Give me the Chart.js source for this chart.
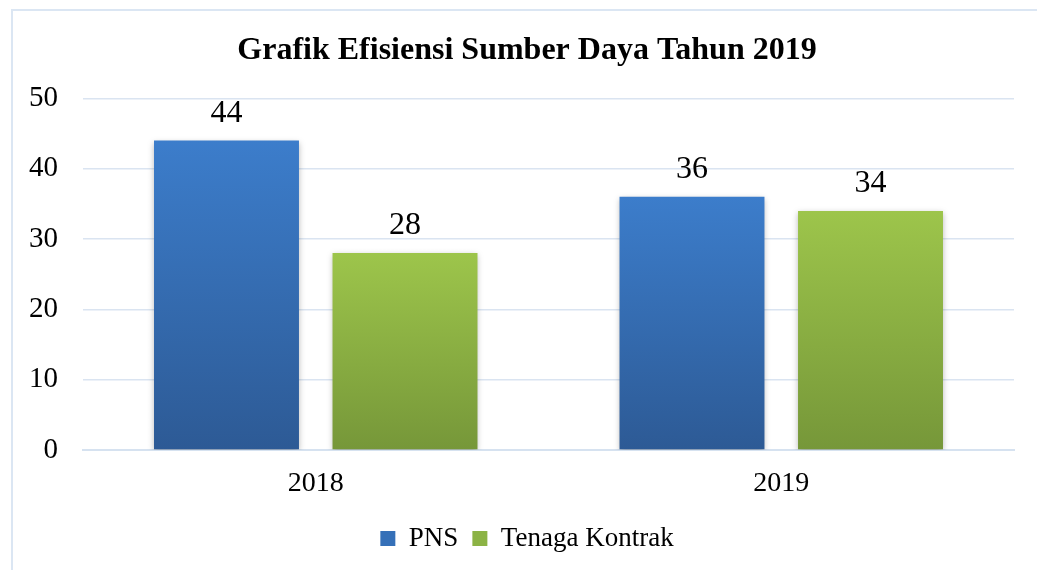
<!DOCTYPE html>
<html>
<head>
<meta charset="utf-8">
<script src="https://cdn.jsdelivr.net/npm/chart.js@4.4.1/dist/chart.umd.min.js"></script>
<style>
  html, body { margin: 0; padding: 0; background: #ffffff; overflow: hidden; }
  #wrap { position: relative; width: 1037px; height: 570px; }
  canvas { display: block; }
</style>
</head>
<body>
<div id="wrap"><canvas id="c" width="1037" height="570"></canvas></div>
<script>
const categories = ['2018', '2019'];
const pnsValues = [44, 36];
const kontrakValues = [28, 34];
const seriesNames = ['PNS', 'Tenaga Kontrak'];
const yTicks = [0, 10, 20, 30, 40, 50];
const chartTitle = 'Grafik Efisiensi Sumber Daya Tahun 2019';

const FONT = '"Liberation Serif", "Times New Roman", serif';

function barGradient(top, bottom) {
  return function (ctx) {
    const chart = ctx.chart;
    if (!chart.chartArea || ctx.type !== 'data') return top;
    const y = chart.scales.y;
    const yTop = y.getPixelForValue(ctx.raw);
    const yBot = y.getPixelForValue(0);
    if (!isFinite(yTop) || !isFinite(yBot) || yTop === yBot) return top;
    const g = chart.ctx.createLinearGradient(0, yTop, 0, yBot);
    g.addColorStop(0, top);
    g.addColorStop(1, bottom);
    return g;
  };
}

const borderPlugin = {
  id: 'outerBorder',
  afterLayout(chart) {
    // let the y tick labels extend left of the axis box without being clipped
    chart.scales.y.left = 0;
  },
  beforeDraw(chart) {
    const c = chart.ctx;
    c.save();
    c.fillStyle = '#ffffff';
    c.fillRect(0, 0, chart.width, chart.height);
    c.strokeStyle = '#dbe6f3';
    c.lineWidth = 2;
    c.beginPath();
    c.moveTo(12, chart.height + 5);
    c.lineTo(12, 10);
    c.lineTo(chart.width + 5, 10);
    c.stroke();
    c.restore();
  }
};

const shadowPlugin = {
  id: 'barShadow',
  beforeDatasetsDraw(chart) {
    const c = chart.ctx;
    c.save();
    c.shadowColor = 'rgba(0,0,0,0.28)';
    c.shadowBlur = 6;
    c.shadowOffsetX = 0;
    c.shadowOffsetY = 2;
  },
  afterDatasetsDraw(chart) {
    chart.ctx.restore();
  }
};

const valueLabelPlugin = {
  id: 'valueLabels',
  afterDatasetsDraw(chart) {
    const c = chart.ctx;
    c.save();
    c.font = '32px ' + FONT;
    c.fillStyle = '#000000';
    c.textAlign = 'center';
    c.textBaseline = 'alphabetic';
    chart.data.datasets.forEach((ds, di) => {
      const meta = chart.getDatasetMeta(di);
      meta.data.forEach((bar, i) => {
        c.fillText(String(ds.data[i]), bar.x, bar.y - 19);
      });
    });
    c.restore();
  }
};

new Chart(document.getElementById('c'), {
  type: 'bar',
  data: {
    labels: categories,
    datasets: [
      {
        label: seriesNames[0],
        data: pnsValues,
        backgroundColor: barGradient('#3c7dcb', '#2d5a95'),
        borderWidth: 0,
        categoryPercentage: 0.767,
        barPercentage: 0.812
      },
      {
        label: seriesNames[1],
        data: kontrakValues,
        backgroundColor: barGradient('#9dc54b', '#769739'),
        borderWidth: 0,
        categoryPercentage: 0.767,
        barPercentage: 0.812
      }
    ]
  },
  options: {
    responsive: false,
    animation: false,
    devicePixelRatio: 1,
    layout: { padding: { left: 40, right: 23, top: 0, bottom: 8 } },
    plugins: {
      title: {
        display: true,
        text: chartTitle,
        color: '#000000',
        font: { family: FONT, size: 32, weight: 'bold', lineHeight: 1.2 },
        padding: { top: 32, bottom: 28 }
      },
      legend: {
        position: 'bottom',
        labels: {
          color: '#000000',
          font: { family: FONT, size: 27 },
          boxWidth: 15,
          boxHeight: 15,
          padding: 14,
          generateLabels(chart) {
            const fills = ['#3570b8', '#8cb345'];
            return chart.data.datasets.map((ds, i) => ({
              text: ds.label,
              fillStyle: fills[i],
              strokeStyle: fills[i],
              lineWidth: 0,
              hidden: false,
              datasetIndex: i,
              fontColor: '#000000'
            }));
          }
        }
      },
      tooltip: { enabled: false }
    },
    scales: {
      x: {
        grid: { display: false, drawTicks: false },
        border: { display: true, color: '#d6e2f0', width: 2 },
        ticks: { color: '#000000', font: { family: FONT, size: 28 }, padding: 17 },
        afterFit(scale) { scale.height = 61; }
      },
      y: {
        min: 0,
        max: 50,
        afterBuildTicks(scale) { scale.ticks = yTicks.map(v => ({ value: v })); },
        grid: { color: '#dae4f1', lineWidth: 1.5, drawTicks: false },
        border: { display: false },
        ticks: { color: '#000000', font: { family: FONT, size: 29 }, padding: 25 },
        afterFit(scale) { scale.width = 43; }
      }
    }
  },
  plugins: [borderPlugin, shadowPlugin, valueLabelPlugin]
});
</script>
</body>
</html>
